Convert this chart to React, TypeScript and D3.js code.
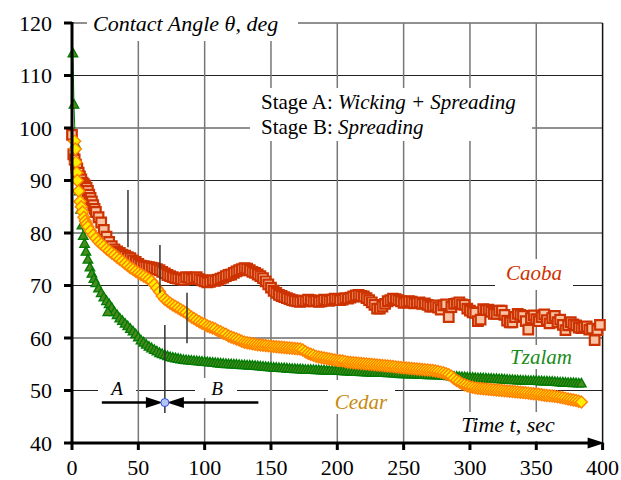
import React, { useEffect, useRef } from "react";
import * as d3 from "d3";

const W = 621;
const H = 480;

const xTickValues = [0, 50, 100, 150, 200, 250, 300, 350, 400];
const yTickValues = [40, 50, 60, 70, 80, 90, 100, 110, 120];

// sampling grid of the tail of each run (seconds): 22, 24, ..., 384
const tailTimes = d3.range(22, 385, 2);

// Tzalam
const tzalamEarlyT = [0.7, 1.5, 2.5, 3.5, 4.5, 5.5, 6.5, 7.5, 8.5, 9.5, 10.5, 12, 13.5, 15, 16.5, 18, 20];
const tzalamEarlyV = [114.3, 104.5, 97, 93.5, 91, 88, 84.5, 81.5, 79.5, 78, 76.5, 75, 73.5, 72.3, 71.3, 70.5, 69.5];
const tzalamOutlierT = [27];
const tzalamOutlierV = [65];
const tzalamTailV = [
  68.6, 67.8, 67.1, 66.5, 65.8, 65.0, 64.4, 63.8, 63.3, 62.8,
  62.3, 61.8, 61.3, 60.8, 60.2, 59.6, 59.2, 58.8, 58.4, 58.1,
  57.8, 57.5, 57.2, 57.0, 56.8, 56.6, 56.4, 56.3, 56.2, 56.1,
  56.0, 55.9, 55.85, 55.8, 55.75, 55.7, 55.65, 55.6, 55.55, 55.5,
  55.45, 55.4, 55.35, 55.3, 55.25, 55.2, 55.15, 55.1, 55.08, 55.05,
  55.02, 55.0, 54.95, 54.9, 54.88, 54.85, 54.82, 54.8, 54.75, 54.7,
  54.65, 54.6, 54.55, 54.5, 54.45, 54.4, 54.38, 54.35, 54.32, 54.3,
  54.25, 54.2, 54.18, 54.15, 54.12, 54.1, 54.05, 54.0, 54.0, 54.0,
  53.98, 53.95, 53.92, 53.9, 53.88, 53.85, 53.82, 53.8, 53.8, 53.8,
  53.78, 53.75, 53.72, 53.7, 53.68, 53.65, 53.62, 53.6, 53.58, 53.55,
  53.52, 53.5, 53.48, 53.45, 53.42, 53.4, 53.4, 53.4, 53.38, 53.35,
  53.32, 53.3, 53.25, 53.2, 53.2, 53.2, 53.18, 53.15, 53.12, 53.1,
  53.08, 53.05, 53.02, 53.0, 53.0, 53.0, 52.98, 52.95, 52.92, 52.9,
  52.85, 52.8, 52.75, 52.7, 52.68, 52.65, 52.62, 52.6, 52.55, 52.5,
  52.48, 52.45, 52.42, 52.4, 52.38, 52.35, 52.32, 52.3, 52.28, 52.25,
  52.22, 52.2, 52.15, 52.1, 52.08, 52.05, 52.02, 52.0, 51.98, 51.95,
  51.92, 51.9, 51.9, 51.9, 51.88, 51.85, 51.82, 51.8, 51.78, 51.75,
  51.72, 51.7, 51.65, 51.6, 51.58, 51.55, 51.52, 51.5, 51.48, 51.45,
  51.42, 51.4,
];

// Cedar
const cedarEarlyT = [2, 2.5, 3, 3.5, 4, 5, 6, 7, 8, 9, 10, 11, 12, 14, 16, 18, 20];
const cedarEarlyV = [97.5, 96, 93.5, 91.5, 90, 88, 86, 85, 84, 83, 82.3, 81.7, 81.2, 80.4, 79.6, 79, 78.4];
const cedarTailV = [
  77.9, 77.5, 77.0, 76.6, 76.2, 75.8, 75.4, 75.0, 74.6, 74.2,
  73.8, 73.4, 73.1, 72.7, 72.4, 72.1, 71.8, 71.5, 71.2, 70.8,
  70.2, 69.5, 68.8, 68.0, 67.4, 67.0, 66.6, 66.3, 66.0, 65.7,
  65.4, 65.1, 64.8, 64.4, 64.0, 63.7, 63.4, 63.1, 62.8, 62.6,
  62.3, 62.1, 61.9, 61.7, 61.4, 61.2, 60.9, 60.7, 60.4, 60.2,
  60.0, 59.8, 59.6, 59.4, 59.2, 59.1, 59.0, 58.9, 58.8, 58.7,
  58.65, 58.6, 58.55, 58.5, 58.45, 58.4, 58.35, 58.3, 58.25, 58.2,
  58.15, 58.1, 58.05, 58.0, 57.95, 57.9, 57.7, 57.4, 57.1, 56.9,
  56.7, 56.5, 56.4, 56.3, 56.2, 56.1, 56.0, 55.9, 55.8, 55.7,
  55.65, 55.6, 55.5, 55.4, 55.35, 55.3, 55.25, 55.2, 55.15, 55.1,
  55.05, 55.0, 54.95, 54.9, 54.85, 54.8, 54.75, 54.7, 54.65, 54.6,
  54.55, 54.5, 54.45, 54.4, 54.35, 54.3, 54.25, 54.2, 54.15, 54.1,
  54.05, 54.0, 53.95, 53.9, 53.85, 53.8, 53.7, 53.6, 53.5, 53.4,
  53.2, 53.0, 52.7, 52.3, 51.9, 51.6, 51.3, 51.1, 50.9, 50.7,
  50.6, 50.5, 50.45, 50.4, 50.35, 50.3, 50.25, 50.2, 50.15, 50.1,
  50.05, 50.0, 49.95, 49.9, 49.85, 49.8, 49.75, 49.7, 49.65, 49.6,
  49.55, 49.5, 49.45, 49.4, 49.35, 49.3, 49.2, 49.1, 49.05, 49.0,
  48.95, 48.9, 48.8, 48.7, 48.6, 48.5, 48.4, 48.3, 48.2, 48.1,
  47.95, 47.8,
];

// Caoba
const caobaEarlyT = [0, 1, 2, 3, 4, 5, 6, 7, 8, 9, 10, 11, 12, 13, 14, 15, 16, 17, 18, 20];
const caobaEarlyV = [98.7, 95, 94, 93, 92.3, 91.5, 90.8, 90.2, 89.6, 89.3, 89, 88.6, 88, 87.3, 86.7, 86, 85.3, 84.6, 84, 83];
const caobaTailV = [
  82.0, 80.6, 79.3, 78.3, 77.5, 76.9, 76.5, 76.2, 75.9, 75.7,
  75.4, 75.2, 74.8, 74.5, 74.1, 73.8, 73.7, 73.6, 73.5, 73.4,
  73.3, 73.1, 72.9, 72.6, 72.3, 72.0, 71.8, 71.6, 71.4, 71.3,
  71.2, 71.1, 71.6, 71.5, 71.2, 71.4, 71.6, 71.2, 71.0, 70.8,
  70.6, 70.7, 71.0, 70.9, 71.1, 71.3, 71.5, 71.8, 72.0, 72.1,
  72.4, 72.7, 72.9, 73.1, 73.3, 73.2, 72.9, 72.6, 72.4, 72.1,
  71.8, 71.4, 70.8, 70.2, 69.6, 69.0, 68.6, 68.2, 68.0, 67.8,
  67.6, 67.4, 67.2, 67.1, 67.0, 66.9, 67.1, 67.0, 67.3, 67.2,
  67.0, 67.1, 66.9, 67.0, 67.3, 67.2, 67.1, 67.3, 67.5, 67.4,
  67.2, 67.3, 67.6, 67.5, 67.7, 67.9, 68.1, 68.2, 68.0, 67.9,
  67.6, 67.2, 66.8, 66.3, 65.6, 65.6, 66.0, 66.5, 67.0, 67.2,
  67.5, 67.4, 67.2, 67.0, 66.7, 66.8, 67.0, 66.9, 66.6, 66.7,
  66.8, 66.5, 66.6, 66.3, 66.0, 66.0, 66.2, 65.8, 65.4, 66.2,
  66.4, 64.0, 65.9, 66.5, 66.6, 66.8, 66.4, 66.3, 65.6, 65.2,
  64.9, 64.8, 63.2, 63.5, 65.5, 65.3, 65.4, 65.0, 64.6, 64.6,
  65.2, 65.2, 64.4, 63.3, 63.0, 63.0, 64.0, 64.6, 64.4, 64.2,
  63.2, 61.6, 63.8, 64.3, 63.6, 63.2, 64.0, 64.5, 63.4, 62.8,
  63.8, 64.2, 63.0, 63.5, 62.5, 61.5, 62.4, 63.0, 62.6, 62.4,
  62.0, 61.9,
];
const caobaEndT = [386, 388, 390, 392, 394, 396, 398];
const caobaEndV = [62.1, 62.2, 61.6, 61.8, 59.6, 61.5, 62.5];

// stage marker lines [t, v1, v2]
const stageMarks = [
  [42.2, 88.2, 77.3],
  [66.3, 77.7, 68.6],
  [86.7, 68.6, 59.0],
  [70, 62.5, 45.7],
];
const transitionT = 70;
const arrowV = 47.7;
const arrowLeftStart = 22.5;
const arrowRightStart = 140.5;

type P = [number, number];
const zip = (t: number[], v: number[]): P[] => t.slice(0, v.length).map((d, i) => [d, v[i]] as P);

const tzalam: P[] = [...zip(tzalamEarlyT, tzalamEarlyV), ...zip(tailTimes, tzalamTailV)];
const tzalamExtra: P[] = zip(tzalamOutlierT, tzalamOutlierV);
const cedar: P[] = [...zip(cedarEarlyT, cedarEarlyV), ...zip(tailTimes, cedarTailV)];
const caoba: P[] = [...zip(caobaEarlyT, caobaEarlyV), ...zip(tailTimes, caobaTailV), ...zip(caobaEndT, caobaEndV)];

const SERIF = "Liberation Serif";

export default function App() {
  const ref = useRef<SVGSVGElement | null>(null);

  useEffect(() => {
    const svg = d3.select(ref.current);
    svg.selectAll("*").remove();

    const x = d3.scaleLinear().domain([0, 400]).range([72, 602.6]);
    const y = d3.scaleLinear().domain([40, 120]).range([443, 23]);
    const line = d3.line<P>().x((d) => x(d[0])).y((d) => y(d[1]));

    const tri = "M0,-4.8L4.8,3.8L-4.8,3.8Z";
    const dia = "M0,-6L6,0L0,6L-6,0Z";
    const sq = "M-4.8,-4.8H4.8V4.8H-4.8Z";

    const x0 = x(0);
    const xMax = x(400);
    const yTop = y(120);
    const yBot = y(40);

    svg.append("rect").attr("width", W).attr("height", H).attr("fill", "#fff");

    // grid
    svg.append("g").selectAll("line").data(yTickValues.filter((v) => v > 40)).join("line")
      .attr("x1", x0).attr("x2", xMax).attr("y1", (d) => y(d)).attr("y2", (d) => y(d))
      .attr("stroke", "#222").attr("stroke-width", 1);
    svg.append("g").selectAll("line").data(xTickValues.filter((t) => t > 0 && t < 400)).join("line")
      .attr("x1", (d) => x(d)).attr("x2", (d) => x(d)).attr("y1", yTop).attr("y2", yBot)
      .attr("stroke", "#777").attr("stroke-width", 1.5);
    svg.append("line").attr("x1", xMax).attr("x2", xMax).attr("y1", yTop).attr("y2", yBot)
      .attr("stroke", "#111").attr("stroke-width", 1.5);

    // white label boxes
    const boxes = [
      [87, 4, 211, 37], [250, 88, 282, 53], [495, 259, 78, 31], [505, 345, 73, 24],
      [328, 380, 67, 34], [452, 412, 113, 29], [98, 378, 38, 20], [195, 378, 42, 20],
    ];
    svg.append("g").selectAll("rect").data(boxes).join("rect")
      .attr("x", (d) => d[0]).attr("y", (d) => d[1]).attr("width", (d) => d[2]).attr("height", (d) => d[3])
      .attr("fill", "#fff");

    const txt = (xx: number, yy: number, size: number, italic: boolean, color: string, anchor: string) =>
      svg.append("text").attr("x", xx).attr("y", yy).attr("font-size", size)
        .attr("font-family", SERIF).style("font-family", `"${SERIF}"`)
        .attr("font-style", italic ? "italic" : "normal").attr("fill", color).attr("text-anchor", anchor);

    txt(93, 31, 22, true, "#000", "start").text("Contact Angle θ, deg");
    const s1 = txt(261, 109, 21, false, "#000", "start");
    s1.append("tspan").text("Stage A: ");
    s1.append("tspan").attr("font-style", "italic").text("Wicking + Spreading");
    const s2 = txt(261, 134, 21, false, "#000", "start");
    s2.append("tspan").text("Stage B: ");
    s2.append("tspan").attr("font-style", "italic").text("Spreading");
    txt(534, 280, 21, true, "#cc3300", "middle").text("Caoba");
    txt(541, 364, 21, true, "#1a8c1a", "middle").text("Tzalam");
    txt(361, 409, 21, true, "#c88a10", "middle").text("Cedar");
    txt(508, 432, 22, true, "#000", "middle").text("Time t, sec");
    txt(117, 395, 19, true, "#000", "middle").text("A");
    txt(217, 395, 19, true, "#000", "middle").text("B");

    // series
    svg.append("path").attr("d", line(tzalam) || "").attr("fill", "none").attr("stroke", "#008000").attr("stroke-width", 1);
    svg.append("g").selectAll("path").data([...tzalam, ...tzalamExtra]).join("path")
      .attr("d", tri).attr("transform", (d) => `translate(${x(d[0])},${y(d[1])})`)
      .attr("fill", "#4a8a20").attr("stroke", "#007a00").attr("stroke-width", 1.3);
    svg.append("path").attr("d", line(caoba) || "").attr("fill", "none").attr("stroke", "#cc3300").attr("stroke-width", 1);
    svg.append("g").selectAll("path").data(caoba).join("path")
      .attr("d", sq).attr("transform", (d) => `translate(${x(d[0])},${y(d[1])})`)
      .attr("fill", "#fac4a4").attr("stroke", "#cc3300").attr("stroke-width", 2.2);
    svg.append("path").attr("d", line(cedar) || "").attr("fill", "none").attr("stroke", "#ff8000").attr("stroke-width", 1);
    svg.append("g").selectAll("path").data(cedar).join("path")
      .attr("d", dia).attr("transform", (d) => `translate(${x(d[0])},${y(d[1])})`)
      .attr("fill", "#ffee00").attr("stroke", "#ff8000").attr("stroke-width", 1.4);

    // stage marks and arrows
    svg.append("g").selectAll("line").data(stageMarks).join("line")
      .attr("x1", (d) => x(d[0])).attr("x2", (d) => x(d[0])).attr("y1", (d) => y(d[1])).attr("y2", (d) => y(d[2]))
      .attr("stroke", "#333").attr("stroke-width", 1.5);
    const xt = x(transitionT);
    const ya = y(arrowV);
    svg.append("line").attr("x1", x(arrowLeftStart)).attr("x2", xt - 12).attr("y1", ya).attr("y2", ya)
      .attr("stroke", "#000").attr("stroke-width", 2.5);
    svg.append("path").attr("d", `M${xt - 2},${ya}L${xt - 19},${ya - 5.5}L${xt - 19},${ya + 5.5}Z`).attr("fill", "#000");
    svg.append("line").attr("x1", x(arrowRightStart)).attr("x2", xt + 12).attr("y1", ya).attr("y2", ya)
      .attr("stroke", "#000").attr("stroke-width", 2.5);
    svg.append("path").attr("d", `M${xt + 2},${ya}L${xt + 19},${ya - 5.5}L${xt + 19},${ya + 5.5}Z`).attr("fill", "#000");
    svg.append("circle").attr("cx", xt).attr("cy", ya).attr("r", 4)
      .attr("fill", "#b4c4f4").attr("stroke", "#2f4fe0").attr("stroke-width", 1);

    // axes
    svg.append("line").attr("x1", x0).attr("x2", x0).attr("y1", yTop - 1).attr("y2", yBot)
      .attr("stroke", "#000").attr("stroke-width", 3);
    yTickValues.forEach((v) => {
      svg.append("line").attr("x1", x0 - 8).attr("x2", x0).attr("y1", y(v)).attr("y2", y(v))
        .attr("stroke", "#000").attr("stroke-width", 3);
      txt(52, y(v) + 7.5, 22, false, "#000", "end").text(String(v));
    });
    svg.append("line").attr("x1", x0 - 1.5).attr("x2", xMax - 12).attr("y1", yBot).attr("y2", yBot)
      .attr("stroke", "#000").attr("stroke-width", 3);
    svg.append("path").attr("d", `M${xMax + 2},${yBot}L${xMax - 15},${yBot - 5.5}L${xMax - 15},${yBot + 5.5}Z`).attr("fill", "#000");
    xTickValues.forEach((t) => {
      svg.append("line").attr("x1", x(t)).attr("x2", x(t)).attr("y1", yBot).attr("y2", yBot + 7)
        .attr("stroke", "#000").attr("stroke-width", 3);
      txt(x(t), 475, 22, false, "#000", "middle").text(String(t));
    });
  }, []);

  return (
    <svg ref={ref} width={W} height={H} style={{ position: "absolute", left: 0, top: 0, background: "#fff" }} />
  );
}
